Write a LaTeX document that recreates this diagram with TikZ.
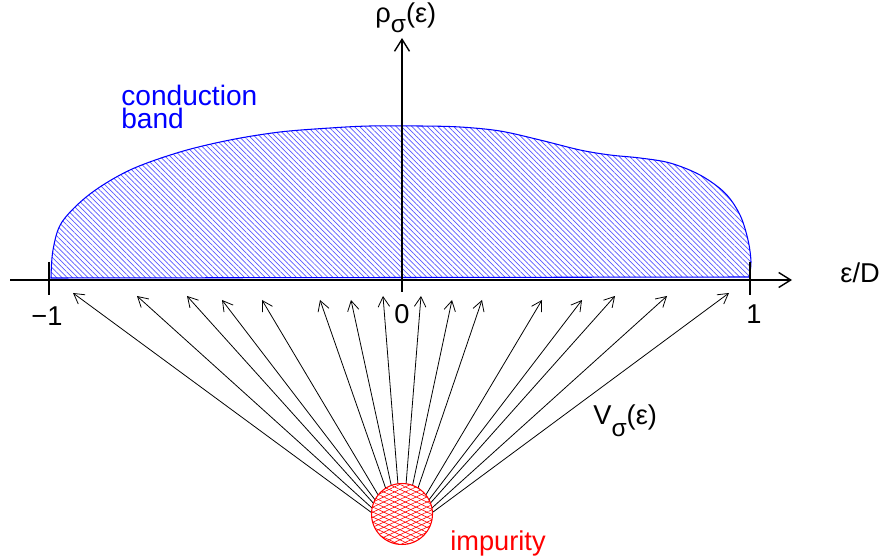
\documentclass[tikz,border=0pt]{standalone}
\usepackage{fontspec}
\setmainfont{Liberation Sans}
\usetikzlibrary{arrows.meta,patterns.meta}

\begin{document}
\begin{tikzpicture}[x=0.02cm,y=-0.02cm,
  lab/.style={inner sep=0pt,font=\fontsize{15.5}{16}\selectfont},
  axis/.style={line width=0.8pt,-{Straight Barb[length=2.4mm,width=3mm]}},
  vec/.style={line width=0.45pt,-{Straight Barb[length=2mm,width=2.3mm]}},
  band/.style={draw=blue,line width=0.6pt,pattern color=blue!65,
    pattern={Lines[angle=-45,distance=2.1pt,line width=0.4pt]}},
  hatch/.style={pattern color=red,pattern={Lines[angle=#1,distance=2.6pt,line width=0.35pt]}}]
  \useasboundingbox (0,0) rectangle (886,560);
  % conduction band
  \draw[band] plot[smooth,tension=0.55] coordinates {(51,278) (53,250) (62,222) (90,194)
    (130,170) (180,152) (230,140) (280,132) (330,128) (370,126) (420,126) (460,127)
    (500,131) (540,140) (580,150) (610,155) (640,158) (670,163) (700,175) (725,193)
    (740,215) (748,240) (751,262) (749,277)} -- cycle;
  % axes
  \coordinate (xl) at (10,280);
  \coordinate (xr) at (792,280);
  \coordinate (yb) at (402,292);
  \coordinate (yt) at (402,38);
  \draw[axis] (xl) -- (xr);
  \draw[axis] (yb) -- (yt);
  \draw[line width=0.8pt] (49,262) -- (49,295) (750,262) -- (750,295);
  \node[lab,anchor=base] (m1) at (47,326) {−1};
  \node[lab,anchor=base] (z0) at (402,324) {0};
  \node[lab,anchor=base] (p1) at (754,324) {1};
  \node[lab,anchor=base west] (eps) at (840,283) {ε/D};
  \node[lab,anchor=base west] (rho) at (375,23)
    {ρ\raisebox{-5.5pt}{\fontsize{14}{14}\selectfont σ}(ε)};
  \node[lab,anchor=base west] (hyb) at (593,425)
    {V\raisebox{-6.5pt}{\fontsize{14}{14}\selectfont σ}(ε)};
  \node[lab,anchor=north west,align=left,text=blue,font=\fontsize{16}{13}\selectfont]
    (cb) at (121,85) {conduction\\band};
  % hybridisation arrows
  \coordinate (src) at (402,535);
  \foreach \x/\y [count=\i] in {73/293,137/296,187/296,222/300,262/300,320/300,351/300,
      383/296,421/296,452/300,482/300,542/300,582/300,615/296,667/296,729/293}{
    \coordinate (t\i) at (\x,\y);
    \draw[vec] (src) -- (t\i);
  }
  % impurity
  \node[circle,draw=red,line width=0.6pt,fill=white,minimum size=1.22cm,inner sep=0pt,
    postaction={hatch=25},postaction={hatch=-25}] (imp) at (402,514) {};
  \node[lab,anchor=base west,text=red] (implab) at (450,550) {impurity};
\end{tikzpicture}
\end{document}
